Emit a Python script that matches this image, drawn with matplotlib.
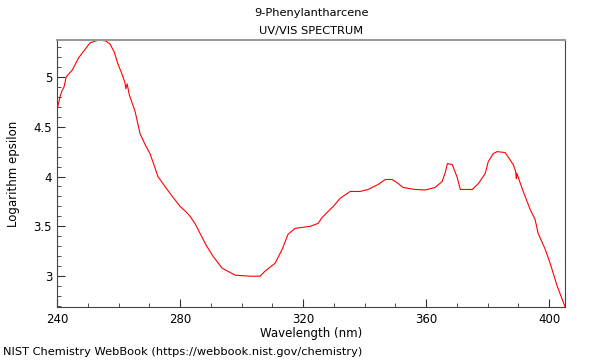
import matplotlib
matplotlib.use("Agg")
import matplotlib.pyplot as plt
from matplotlib.ticker import MultipleLocator, FormatStrFormatter

# Spectrum (wavelength in nm, log epsilon)
wavelength = [240.0, 241.0, 241.5, 242.3, 243.0, 245.0, 247.0, 249.0, 250.7, 252.5, 254.0,
              255.8, 257.2, 258.6, 259.8, 261.1, 262.1, 262.4, 262.8, 263.5, 265.4, 267.0,
              268.5, 270.2, 271.5, 272.8, 275.1, 277.5, 280.0, 281.8, 283.3, 285.0, 286.5,
              288.5, 290.7, 293.7, 297.9, 302.8,
              306.0, 307.6, 310.9, 313.2, 315.1, 317.4, 322.3, 324.9, 326.2, 329.8, 332.0,
              335.3, 338.5, 341.1, 344.4, 346.7, 348.9, 350.9, 352.5, 356.4, 359.7, 362.9,
              365.2, 366.3, 366.9, 368.5, 370.1, 371.1, 375.0, 377.0, 379.2, 380.2, 381.8,
              383.1, 385.7, 387.0, 388.3, 389.1, 389.3, 389.5, 391.2, 393.8, 395.4, 396.4,
              398.7, 400.3, 401.3, 402.6, 404.2, 405.2]
log_eps = [4.67, 4.80, 4.85, 4.90, 5.00, 5.07, 5.19, 5.27, 5.34, 5.36, 5.37,
           5.36, 5.33, 5.25, 5.13, 5.03, 4.94, 4.88, 4.93, 4.82, 4.65, 4.43,
           4.33, 4.23, 4.12, 4.00, 3.90, 3.80, 3.70, 3.65, 3.60, 3.52, 3.43,
           3.31, 3.20, 3.08, 3.01, 3.00,
           3.00, 3.05, 3.13, 3.27, 3.42, 3.48, 3.50, 3.53, 3.59, 3.70, 3.78,
           3.85, 3.85, 3.87, 3.92, 3.97, 3.97, 3.93, 3.89, 3.87, 3.865, 3.89,
           3.95, 4.05, 4.13, 4.12, 3.99, 3.87, 3.87, 3.93, 4.03, 4.15, 4.23,
           4.25, 4.24, 4.18, 4.12, 4.05, 3.98, 4.03, 3.88, 3.67, 3.57, 3.43,
           3.27, 3.13, 3.03, 2.90, 2.77, 2.69]

fig = plt.figure(figsize=(6, 3.6), dpi=100)
ax = fig.add_axes([0.095, 0.147, 0.847, 0.742])
ax.plot(wavelength, log_eps, color="red", lw=0.8)

ax.set_xlim(240, 405.2)
ax.set_ylim(2.69, 5.37)
ax.xaxis.set_major_locator(MultipleLocator(40))
ax.xaxis.set_minor_locator(MultipleLocator(10))
ax.yaxis.set_major_locator(MultipleLocator(0.5))
ax.yaxis.set_minor_locator(MultipleLocator(0.1))
ax.yaxis.set_major_formatter(FormatStrFormatter("%g"))
ax.tick_params(which="both", direction="in", labelsize=8.5, color="#333333",
               top=False, right=False)
ax.tick_params(which="major", length=6)
ax.tick_params(which="minor", length=3)
ax.tick_params(axis="x", pad=4.5)
for side in ["left", "bottom", "right"]:
    ax.spines[side].set_color("#444444")
ax.spines["top"].set_color("#999999")
ax.spines["top"].set_linewidth(1.5)

ax.set_xlabel("Wavelength (nm)", fontsize=8.5, labelpad=0.5)
ax.set_ylabel("Logarithm epsilon", fontsize=8.5, labelpad=10)
fig.text(0.519, 0.965, "9-Phenylantharcene", ha="center", va="center", fontsize=8.2)
fig.text(0.519, 0.915, "UV/VIS SPECTRUM", ha="center", va="center", fontsize=8.2)
fig.text(0.005, 0.022, "NIST Chemistry WebBook (https://webbook.nist.gov/chemistry)",
         ha="left", va="center", fontsize=8.2)

fig.savefig("out.png", dpi=100)
